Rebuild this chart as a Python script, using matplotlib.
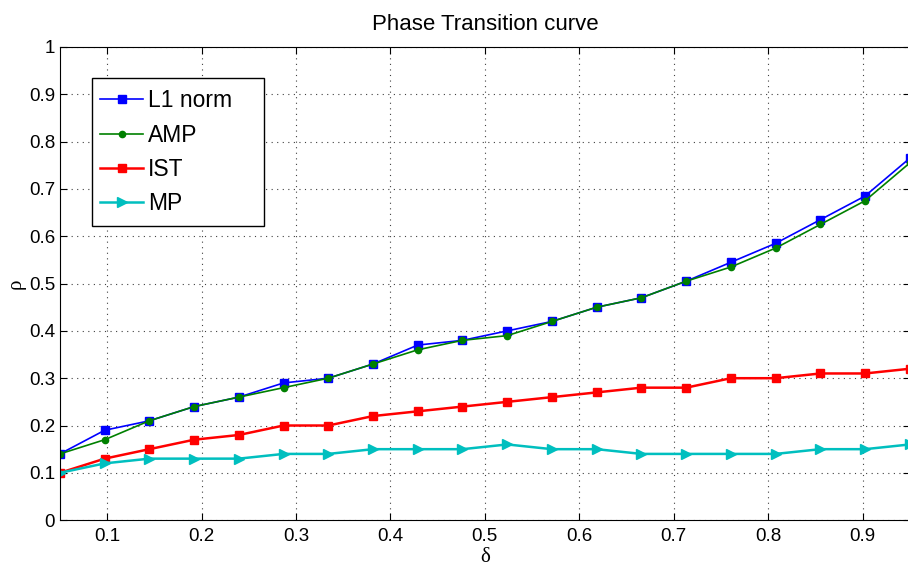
import matplotlib
matplotlib.use("Agg")
import matplotlib.pyplot as plt
from matplotlib.patches import Rectangle

# --- data ---
delta = [0.05, 0.0974, 0.1447, 0.1921, 0.2395, 0.2868, 0.3342, 0.3816, 0.4289, 0.4763,
         0.5237, 0.5711, 0.6184, 0.6658, 0.7132, 0.7605, 0.8079, 0.8553, 0.9026, 0.95]
l1_norm = [0.14, 0.19, 0.21, 0.24, 0.26, 0.29, 0.30, 0.33, 0.37, 0.38,
           0.40, 0.42, 0.45, 0.47, 0.505, 0.545, 0.585, 0.635, 0.685, 0.765]
amp = [0.14, 0.17, 0.21, 0.24, 0.26, 0.28, 0.30, 0.33, 0.36, 0.38,
       0.39, 0.42, 0.45, 0.47, 0.505, 0.535, 0.575, 0.625, 0.675, 0.755]
ist = [0.10, 0.13, 0.15, 0.17, 0.18, 0.20, 0.20, 0.22, 0.23, 0.24,
       0.25, 0.26, 0.27, 0.28, 0.28, 0.30, 0.30, 0.31, 0.31, 0.32]
mp = [0.10, 0.12, 0.13, 0.13, 0.13, 0.14, 0.14, 0.15, 0.15, 0.15,
      0.16, 0.15, 0.15, 0.14, 0.14, 0.14, 0.14, 0.15, 0.15, 0.16]

x_ticks = [0.1, 0.2, 0.3, 0.4, 0.5, 0.6, 0.7, 0.8, 0.9]
y_ticks = [0, 0.1, 0.2, 0.3, 0.4, 0.5, 0.6, 0.7, 0.8, 0.9, 1]

plt.rcParams['font.family'] = ['Liberation Sans', 'DejaVu Sans']

fig = plt.figure(figsize=(9.08, 5.66), dpi=100)
ax = fig.add_axes([0.066, 0.081, 0.936, 0.836])

ax.plot(delta, l1_norm, color='#0000ff', marker='s', markersize=5.8, linewidth=1.2, label='L1 norm')
ax.plot(delta, amp, color='#008000', marker='o', markersize=4.5, linewidth=1.2, label='AMP')
ax.plot(delta, ist, color='#ff0000', marker='s', markersize=5.8, linewidth=1.8, label='IST')
ax.plot(delta, mp, color='#00bfbf', marker='>', markersize=6.5, linewidth=1.8, label='MP')

ax.set_xlim(0.05, 0.95)
ax.set_ylim(0, 1)
ax.set_xticks(x_ticks)
ax.set_xticklabels([f"{t:g}" for t in x_ticks])
ax.set_yticks(y_ticks)
ax.set_yticklabels([f"{t:g}" for t in y_ticks])
ax.tick_params(direction='in', top=True, right=True, labelsize=13.5, length=5)
ax.tick_params(axis='x', pad=6)
ax.grid(True, color='0.25', linestyle=(0, (1, 4)), linewidth=0.8)

ax.set_title('Phase Transition curve', fontsize=16, pad=12)
ax.set_xlabel('δ', fontsize=15, family=['Liberation Serif', 'DejaVu Serif'], labelpad=2)
ax.set_ylabel('ρ', fontsize=15, family=['Liberation Serif', 'DejaVu Serif'], labelpad=2)

# legend entries without frame, box drawn around them like MATLAB's wide legend
leg = ax.legend(loc='upper left', bbox_to_anchor=(0.047, 0.911), fontsize=16.5,
                frameon=False, handlelength=1.9, handletextpad=0.2,
                labelspacing=0.5, borderpad=0, borderaxespad=0)
ax.add_patch(Rectangle((0.0376, 0.622), 0.2024, 0.312, transform=ax.transAxes,
                       facecolor='white', edgecolor='black', linewidth=1.0, zorder=4.9))
leg.set_zorder(5)

fig.savefig('out.png', dpi=100)
